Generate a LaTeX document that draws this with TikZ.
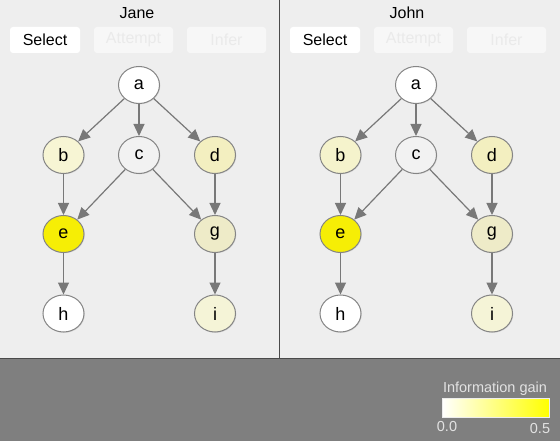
\documentclass[tikz,border=0pt]{standalone}
\usepackage{fontspec}
\setmainfont{Liberation Sans}
\usetikzlibrary{arrows.meta,shapes.geometric,shadows}
\definecolor{panelbg}{HTML}{EEEEEE}
\definecolor{bandgray}{HTML}{7F7F7F}
\definecolor{divider}{HTML}{4A4A4A}
\definecolor{nodeborder}{HTML}{858585}
\definecolor{edgegray}{HTML}{787878}
\definecolor{btnoff}{HTML}{F7F7F7}
\definecolor{btntext}{HTML}{EAEAEA}
\definecolor{legendtext}{HTML}{E2E2E2}
\definecolor{cwhite}{HTML}{FFFFFF}
\definecolor{cgray}{HTML}{F2F2F2}
\definecolor{ylow}{HTML}{F7F5D4}
\definecolor{ylowb}{HTML}{F5F3CC}
\definecolor{ymid}{HTML}{F3EFC0}
\definecolor{ygee}{HTML}{EEEBC8}
\definecolor{yhigh}{HTML}{F6EE05}
\definecolor{yii}{HTML}{F5F4D7}
\begin{document}
\begin{tikzpicture}[x=1pt,y=-1pt,
  gnode/.style={ellipse, draw=nodeborder, line width=1pt, minimum width=41pt, minimum height=37pt, inner sep=0pt,
     font=\fontsize{18}{18}\selectfont,
     drop shadow={shadow xshift=0.8pt, shadow yshift=-0.8pt, opacity=0.2}},
  edge/.style={draw=edgegray, line width=1.2pt, -{Triangle[length=12pt,width=11pt]}},
  title/.style={font=\fontsize{16}{18}\selectfont, text=black},
  btn/.style={fill=white, rounded corners=3pt, minimum width=70pt, minimum height=26pt, inner sep=0pt, font=\fontsize{16}{18}\selectfont},
  btnoff/.style={btn, fill=btnoff, text=btntext, minimum width=79pt},
  legend/.style={font=\fontsize{14.5}{16}\selectfont, text=legendtext}
]
\useasboundingbox (0,0) rectangle (560,441);
% backgrounds
\fill[panelbg] (0,0) rectangle (560,359);
\fill[bandgray] (0,359) rectangle (560,441);
\draw[divider, line width=0.8pt] (0,358.6) -- (560,358.6);
\draw[divider, line width=1pt] (279.5,0) -- (279.5,359);

% ---------- Jane panel ----------
\node[title] (tJane) at (137,13) {Jane};
\node[btn] (jsel) at (45,40) {Select};
\node[btnoff] (jatt) at (133.5,40) {Attempt};
\node[btnoff] (jinf) at (226.5,40) {Infer};

\node[gnode, fill=cwhite] (ja) at (139,85) {a};
\node[gnode, fill=ylow] (jb) at (63.5,155) {b};
\node[gnode, fill=cgray] (jc) at (139,155) {c};
\node[gnode, fill=ymid] (jd) at (215,155) {d};
\node[gnode, fill=yhigh] (je) at (63.5,234) {e};
\node[gnode, fill=ygee] (jg) at (215,234) {g};
\node[gnode, fill=cwhite] (jh) at (63.5,313.5) {h};
\node[gnode, fill=yii] (ji) at (215,313.5) {i};

\draw[edge] (ja) -- (jb);
\draw[edge] (ja) -- (jc);
\draw[edge] (ja) -- (jd);
\draw[edge] (jb) -- (je);
\draw[edge] (jc) -- (je);
\draw[edge] (jc) -- (jg);
\draw[edge] (jd) -- (jg);
\draw[edge] (je) -- (jh);
\draw[edge] (jg) -- (ji);

% ---------- John panel ----------
\node[title] (tJohn) at (407,13) {John};
\node[btn] (osel) at (325,40) {Select};
\node[btnoff] (oatt) at (413.5,40) {Attempt};
\node[btnoff] (oinf) at (506.5,40) {Infer};

\node[gnode, fill=cwhite] (oa) at (416,85) {a};
\node[gnode, fill=ylowb] (ob) at (340.5,155) {b};
\node[gnode, fill=cgray] (oc) at (416,155) {c};
\node[gnode, fill=ymid] (od) at (492,155) {d};
\node[gnode, fill=yhigh] (oe) at (340.5,234) {e};
\node[gnode, fill=ygee] (og) at (492,234) {g};
\node[gnode, fill=cwhite] (oh) at (340.5,313.5) {h};
\node[gnode, fill=yii] (oi) at (492,313.5) {i};

\draw[edge] (oa) -- (ob);
\draw[edge] (oa) -- (oc);
\draw[edge] (oa) -- (od);
\draw[edge] (ob) -- (oe);
\draw[edge] (oc) -- (oe);
\draw[edge] (oc) -- (og);
\draw[edge] (od) -- (og);
\draw[edge] (oe) -- (oh);
\draw[edge] (og) -- (oi);

% ---------- legend ----------
\node[legend] (lgtitle) at (495,389) {Information gain};
\shade[left color=white, right color=yellow] (442,398) rectangle (549,417);
\draw[white!85!gray, line width=0.5pt] (442,398) rectangle (549,417);
\node[legend] (lg0) at (447,427) {0.0};
\node[legend] (lg5) at (540,429) {0.5};
\end{tikzpicture}
\end{document}
